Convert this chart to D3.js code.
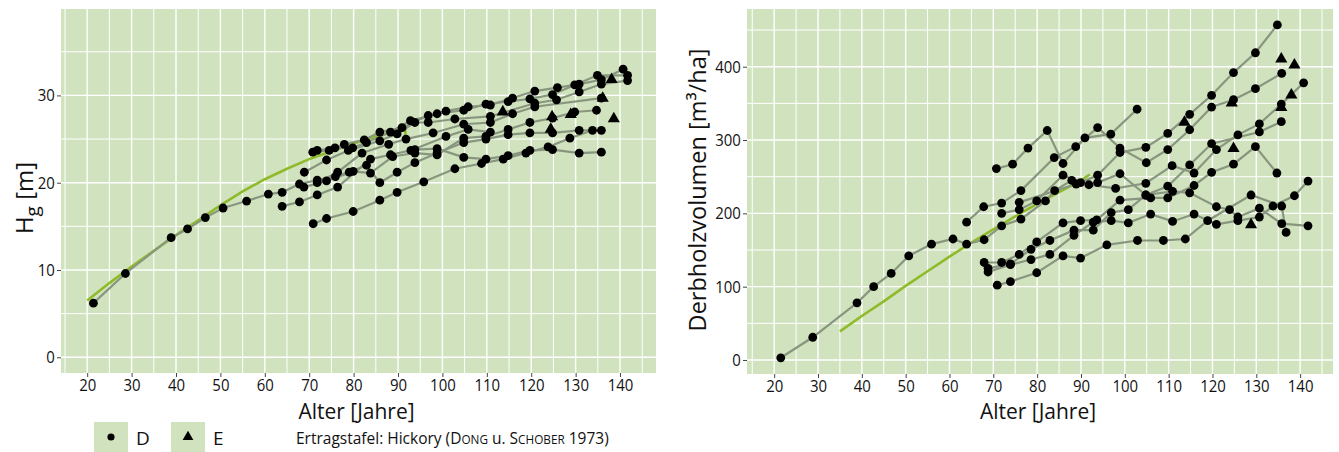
<!DOCTYPE html>
<html><head><meta charset="utf-8">
<script src="https://cdn.jsdelivr.net/npm/d3@7"></script>
<style>
body{margin:0;background:#fff;}
svg{display:block;font-family:"Open Sans","Liberation Sans",sans-serif;}
</style></head><body>
<svg id="c" width="1339" height="452"></svg>
<script>
// ---------- DATA ----------
const xTicks = [20,30,40,50,60,70,80,90,100,110,120,130,140];
const hgTicks = [0,10,20,30];
const volTicks = [0,100,200,300,400];

// Yield table (Ertragstafel Hickory)
const yieldAgeH = [20,25,30,35,40,45,50,55,60,65,70,75,80,85,90,91.6,91.7];
const yieldHg   = [6.5,8.5,10.4,12.2,14.0,15.7,17.4,19.0,20.4,21.6,22.7,23.6,24.5,25.3,26.0,26.3,25.3];
const yieldAgeV = [35,40,45,50,55,60,65,70,75,80,85,90,92];
const yieldVol  = [39,60,80,101,121,141,160,178,196,213,229,245,253];

// Plot series D (age, Hg)
const heightSeries = [
 [[21.4,6.2],[28.6,9.6],[38.9,13.7],[42.6,14.7],[46.6,16.0],[50.6,17.1],[55.9,17.9],[60.8,18.7],[63.9,18.9],[67.8,19.85],[71.8,20.3],[75.9,20.7],[79.0,21.2],[82.9,22.0],[85.9,20.0],[89.8,21.2],[93.8,22.3],[98.8,23.4],[104.8,24.6],[109.8,25.0],[114.8,25.5],[119.7,25.7],[124.8,25.7],[130.8,26.0],[135.8,26.0]],
 [[70.9,15.3],[73.9,15.9],[79.9,16.7],[85.9,18.0],[89.8,18.9],[95.8,20.1],[102.8,21.6],[108.8,22.2],[113.7,22.7],[118.8,23.4],[123.8,24.1],[128.7,25.1],[133.8,26.0]],
 [[63.9,17.3],[67.8,17.8],[71.8,18.6],[76.4,19.5],[83.8,22.7],[88.3,23.2],[93.8,23.8],[98.8,23.9],[104.8,22.9],[109.8,22.7],[114.8,23.1],[119.7,23.7],[124.8,23.8],[130.8,23.4],[135.8,23.5]],
 [[70.8,23.5],[74.5,23.7],[77.9,24.4],[82.4,24.9],[85.9,25.8],[90.9,26.3],[96.8,27.7],[100.8,28.2],[105.8,28.7],[110.8,28.9],[115.8,29.7],[120.8,30.5],[125.9,30.9],[130.8,31.3],[135.8,31.8],[140.7,33.0]],
 [[71.8,23.7],[75.8,24.0],[79.8,24.0],[82.9,24.6],[88.3,25.8],[92.8,27.1],[98.8,27.9],[104.8,28.3],[109.8,29.0],[114.8,29.3],[119.7,29.6],[124.8,30.1],[129.8,31.2],[134.9,32.3],[141.7,32.3]],
 [[68.9,21.2],[73.9,22.6],[78.8,23.7],[85.9,24.8],[89.8,25.6],[93.8,26.9],[96.8,26.9],[102.8,27.3],[110.8,27.6],[120.8,29.1],[125.7,29.5],[130.8,30.4],[135.8,31.3],[141.7,31.7]],
 [[68.8,19.5],[73.9,20.2],[79.9,21.3],[83.8,21.1],[88.8,23.0],[93.8,23.4],[98.8,23.2],[104.8,25.1],[109.8,25.3],[114.8,26.1],[119.7,26.9],[124.8,27.4],[129.8,28.1],[134.7,28.3]],
 [[71.8,20.0],[76.4,21.2],[81.9,23.4],[87.9,24.4],[91.8,25.0],[97.9,25.7],[104.8,26.7],[110.8,26.9],[115.8,27.9],[120.8,28.7],[135.8,29.7]],
 [[92.9,23.7],[100.8,25.3],[105.8,26.1],[110.8,25.8]]
];
// Plots E (single observations)
const heightE = [[113.6,28.0],[124.7,27.45],[124.4,26.0],[128.9,27.7],[136.1,29.55],[138.1,31.7],[138.6,27.2]];

// Plot series D (age, volume m3/ha)
const volumeSeries = [
 [[21.5,3],[28.8,31],[38.9,78],[42.7,100],[46.7,118],[50.7,142],[55.9,158],[60.8,165],[63.9,158],[67.9,164],[71.9,183],[76.3,192],[81.9,217],[84.0,231],[87.9,245],[91.8,239],[97.9,234],[104.8,241],[110.8,265],[115.8,255],[120.9,287],[125.8,307],[130.7,322],[135.7,349],[140.8,378]],
 [[63.9,188],[67.8,209],[71.9,214],[76.3,231],[83.9,276],[88.8,291],[93.8,317],[98.9,289],[104.9,269],[109.8,287],[114.8,314],[119.8,345],[124.8,355],[129.8,370],[135.8,391]],
 [[70.7,261],[74.4,267],[77.9,289],[82.3,313],[85.9,268],[90.9,303],[96.8,308],[102.8,342]],
 [[71.9,200],[75.9,205],[79.9,217],[85.9,252],[89.9,242],[93.8,252],[98.9,283],[104.8,290],[109.8,309],[114.8,335],[119.8,361],[124.8,392],[129.8,419],[134.8,457]],
 [[75.9,215],[88.9,240],[93.8,242],[98.9,254],[104.8,225],[109.8,237],[114.8,266],[119.8,295],[130.7,311],[135.7,325]],
 [[67.9,133],[71.9,133],[75.9,144],[79.9,161],[85.9,187],[89.9,190],[93.6,191],[98.9,218],[105.9,221],[109.8,221],[115.8,238],[119.8,256],[124.8,267],[129.8,291],[134.7,255]],
 [[68.8,125],[73.9,131],[78.6,151],[82.9,163],[88.4,177],[92.8,177],[96.9,201],[100.8,205],[104.8,225],[110.9,230],[114.8,228],[120.9,209],[123.9,205],[125.8,195],[130.7,207],[135.8,186],[141.8,183]],
 [[68.8,120],[73.9,130],[78.6,137],[82.9,144],[88.4,170],[92.8,188],[96.9,190],[100.8,187],[105.9,199],[110.9,189],[115.8,199],[120.9,185],[125.8,190],[130.7,195],[133.8,210],[138.7,224],[141.8,244]],
 [[70.9,102],[73.9,107],[79.9,119],[85.9,142],[89.9,139],[95.9,157],[102.9,163],[108.8,163],[113.8,165],[118.9,190],[128.8,225],[135.8,210],[136.8,174]]
];
const volumeE = [[113.6,323],[124.4,349],[124.8,287],[128.8,183],[135.7,409],[138.7,401],[138.0,360],[135.7,343]];

// ---------- DRAW ----------
const svg = d3.select("#c");
const BG = "#d0e3be", GRID = "#ffffff", LINE = "#88967f", GREEN = "#8fbb2a";
const FONT = "'Open Sans',sans-serif";

function panel(cfg){
  const x = d3.scaleLinear().domain(cfg.xd).range([cfg.x0,cfg.x1]);
  const y = d3.scaleLinear().domain(cfg.yd).range([cfg.y1,cfg.y0]);
  const g = svg.append("g");
  g.append("rect").attr("x",cfg.x0).attr("y",cfg.y0).attr("width",cfg.x1-cfg.x0).attr("height",cfg.y1-cfg.y0).attr("fill",BG);
  const xMinor = d3.range(15,150,10), yMinor = cfg.yMinor;
  g.selectAll(".vx").data(xMinor.filter(v=>x(v)>cfg.x0&&x(v)<cfg.x1)).join("line")
    .attr("x1",d=>x(d)).attr("x2",d=>x(d)).attr("y1",cfg.y0).attr("y2",cfg.y1).attr("stroke",GRID).attr("stroke-width",1);
  g.selectAll(".hy").data(yMinor.filter(v=>y(v)>cfg.y0&&y(v)<cfg.y1)).join("line")
    .attr("x1",cfg.x0).attr("x2",cfg.x1).attr("y1",d=>y(d)).attr("y2",d=>y(d)).attr("stroke",GRID).attr("stroke-width",1);
  g.selectAll(".vX").data(xTicks).join("line")
    .attr("x1",d=>x(d)).attr("x2",d=>x(d)).attr("y1",cfg.y0).attr("y2",cfg.y1).attr("stroke",GRID).attr("stroke-width",1.4);
  g.selectAll(".hY").data(cfg.yTicks).join("line")
    .attr("x1",cfg.x0).attr("x2",cfg.x1).attr("y1",d=>y(d)).attr("y2",d=>y(d)).attr("stroke",GRID).attr("stroke-width",1.4);

  const ax = g.append("g").attr("transform",`translate(0,${cfg.y1})`)
    .call(d3.axisBottom(x).tickValues(xTicks).tickSize(4).tickPadding(2));
  const ay = g.append("g").attr("transform",`translate(${cfg.x0},0)`)
    .call(d3.axisLeft(y).tickValues(cfg.yTicks).tickSize(4).tickPadding(3));
  [ax,ay].forEach(a=>{
    a.select(".domain").remove();
    a.selectAll(".tick line").attr("stroke","#444");
    a.selectAll(".tick text").attr("fill","#111").style("font-size","17px").style("font-family",FONT)
      .attr("transform","scale(0.88,1)");
  });

  const line = d3.line().x(d=>x(d[0])).y(d=>y(d[1]));
  g.append("path").datum(cfg.yieldAges.map((a,i)=>[a,cfg.yieldVals[i]]))
    .attr("d",line).attr("fill","none").attr("stroke",GREEN).attr("stroke-width",2.6);

  g.selectAll(".ser").data(cfg.series).join("path")
    .attr("d",line).attr("fill","none").attr("stroke",LINE).attr("stroke-width",2.2);
  const pts = cfg.series.flat();
  g.selectAll(".pt").data(pts).join("circle")
    .attr("cx",d=>x(d[0])).attr("cy",d=>y(d[1])).attr("r",4.4).attr("fill","#000");
  g.selectAll(".tri").data(cfg.eps).join("path")
    .attr("d",d3.symbol(d3.symbolTriangle,64))
    .attr("transform",d=>`translate(${x(d[0])},${y(d[1])-1})`).attr("fill","#000");

  g.append("text").attr("x",(cfg.x0+cfg.x1)/2 - 2).attr("y",419).attr("text-anchor","middle")
    .style("font-size","21px").style("font-family",FONT).attr("fill","#111")
    .text("Alter [Jahre]");
  return {x,y,g};
}

panel({x0:61,x1:656,y0:9,y1:373,xd:[14.1,148.1],yd:[-1.8,39.9],yTicks:hgTicks,yMinor:[5,15,25,35],
  series:heightSeries,eps:heightE,yieldAges:yieldAgeH,yieldVals:yieldHg});
panel({x0:747,x1:1333,y0:9,y1:374,xd:[13.8,147.5],yd:[-19.1,478.7],yTicks:volTicks,yMinor:[50,150,250,350,450],
  series:volumeSeries,eps:volumeE,yieldAges:yieldAgeV,yieldVals:yieldVol});

const yt1 = svg.append("text").attr("transform","translate(33,198) rotate(-90)").attr("text-anchor","middle")
  .style("font-size","24px").style("font-family",FONT).attr("fill","#111");
yt1.append("tspan").text("H");
yt1.append("tspan").attr("dy",6).style("font-size","19px").text("g");
yt1.append("tspan").attr("dy",-6).text(" [m]");
svg.append("text").attr("transform","translate(706,190) rotate(-90)").attr("text-anchor","middle")
  .style("font-size","23.5px").style("font-family",FONT).attr("fill","#111")
  .text("Derbholzvolumen [m³/ha]");

const lg = svg.append("g").style("font-family",FONT);
const keys = [{x:94,lab:"D",sym:d3.symbolCircle,size:40},{x:171,lab:"E",sym:d3.symbolTriangle,size:50}];
keys.forEach(k=>{
  lg.append("rect").attr("x",k.x).attr("y",422).attr("width",34).attr("height",30).attr("fill",BG);
  lg.append("path").attr("d",d3.symbol(k.sym,k.size)).attr("transform",`translate(${k.x+17},${437})`).attr("fill","#000");
  lg.append("text").attr("x",k.x+42).attr("y",445).style("font-size","19px").attr("fill","#111").text(k.lab);
});
const cap = lg.append("text").attr("x",296).attr("y",444).style("font-size","16.5px").attr("fill","#111")
  .attr("transform","translate(296,0) scale(0.94,1) translate(-296,0)");
cap.append("tspan").text("Ertragstafel: Hickory (D");
cap.append("tspan").style("font-size","12.5px").text("ONG");
cap.append("tspan").text(" u. S");
cap.append("tspan").style("font-size","12.5px").text("CHOBER");
cap.append("tspan").text(" 1973)");
</script>
</body></html>
